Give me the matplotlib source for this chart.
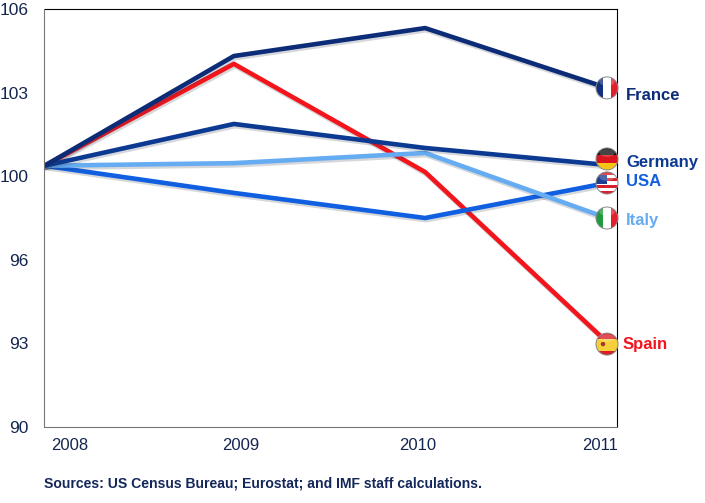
import numpy as np
from matplotlib import pyplot as plt
from matplotlib import patheffects as pe
from matplotlib.patches import Circle, Ellipse, Rectangle

plt.rcParams['font.family'] = ['Liberation Sans', 'DejaVu Sans']

years = [2008, 2009, 2010, 2011]
# the points in the original are not quite evenly spaced
year_pos = [2008, 2009.01, 2010.03, 2011]
france = [100.0, 104.2, 105.27, 102.98]
germany = [100.0, 101.6, 100.68, 100.03]
usa = [100.0, 98.96, 98.0, 99.34]
italy = [100.0, 100.1, 100.49, 98.0]
spain = [100.0, 103.9, 99.76, 93.25]

ytick_labels = ['90', '93', '96', '100', '103', '106']

NAVY = '#0c2c78'
DARKBLUE = '#0c3a92'
BLUE = '#0f5fe0'
LIGHT = '#66acf2'
RED = '#f4141c'
TEXT = '#14264f'

W, H = 705, 503
fig = plt.figure(figsize=(W / 100, H / 100), dpi=100, facecolor='white')
ax = fig.add_axes([44.5 / W, (H - 427) / H, 572.5 / W, 418 / H])

# draw order matters, navy sits on top of the red at the start
series = [(spain, RED), (usa, BLUE), (italy, LIGHT), (germany, DARKBLUE), (france, NAVY)]
for vals, col in series:
    ax.plot(year_pos, vals, color=col, lw=3.3, solid_capstyle='round', solid_joinstyle='round',
            path_effects=[pe.SimpleLineShadow(offset=(0.8, -1.6), shadow_color='#30384a', alpha=0.2),
                          pe.Normal()])

ytick_pos = np.linspace(90, 106, 6)
ax.set_xlim(2008, 2008 + 572.5 / 187.5)
ax.set_ylim(90, 106)
ax.set_yticks(ytick_pos)
ax.set_yticklabels([])
ax.set_xticks([])
ax.tick_params(axis='y', length=0)
ax.spines['left'].set_color('#777777')
ax.spines['bottom'].set_color('#777777')
ax.spines['top'].set_color('black')
ax.spines['right'].set_color('black')
for s in ax.spines.values():
    s.set_linewidth(0.8)

# overlay in pixel coordinates, y going down like the picture
over = fig.add_axes([0, 0, 1, 1], facecolor='none')
over.set_xlim(0, W)
over.set_ylim(H, 0)
over.axis('off')


def to_px(x, y):
    px, py = ax.transData.transform((x, y))
    return px, H - py


def flag(x, y, kind, dy=0):
    cx, cy = to_px(x, y)
    cy += dy
    r = 11
    clip = Circle((cx, cy), r, transform=over.transData)
    parts = []
    if kind in ('france', 'italy'):
        cols = ['#12307e', 'white', '#e2202c'] if kind == 'france' else ['#1f9a3c', 'white', '#e2202c']
        for i, c in enumerate(cols):
            parts.append(Rectangle((cx - r + i * 2 * r / 3, cy - r), 2 * r / 3 + 0.3, 2 * r, fc=c, ec='none'))
    elif kind == 'germany':
        for i, c in enumerate(['#111111', '#d8141c', '#f5c518']):
            parts.append(Rectangle((cx - r, cy - r + i * 2 * r / 3), 2 * r, 2 * r / 3 + 0.3, fc=c, ec='none'))
    elif kind == 'usa':
        for i in range(7):
            c = '#d8202c' if i % 2 == 0 else 'white'
            parts.append(Rectangle((cx - r, cy - r + i * 2 * r / 7), 2 * r, 2 * r / 7 + 0.3, fc=c, ec='none'))
        parts.append(Rectangle((cx - r, cy - r + 3), r, r - 2, fc='#1c3f94', ec='none'))
    elif kind == 'spain':
        parts.append(Rectangle((cx - r, cy - r), 2 * r, 2 * r, fc='#d81e28', ec='none'))
        parts.append(Rectangle((cx - r, cy - r / 2), 2 * r, r + 1, fc='#f6cf3a', ec='none'))
        parts.append(Circle((cx - 4, cy), 2.2, fc='#a8352c', ec='none'))
    for p in parts:
        over.add_patch(p)
        p.set_clip_path(clip)
    # gloss on top half
    gloss = Ellipse((cx, cy - r * 0.55), r * 1.4, r * 0.7, fc='white', ec='none', alpha=0.22)
    over.add_patch(gloss)
    over.add_patch(Circle((cx, cy), r, fc='none', ec='#8a8a8a', lw=0.7))


flag(2011, france[3], 'france')
flag(2011, germany[3], 'germany', dy=-6)
flag(2011, usa[3], 'usa')
flag(2011, italy[3], 'italy')
flag(2011, spain[3], 'spain', dy=2)

# y labels sit a touch below their nominal positions
for val, lab in zip(ytick_pos, ytick_labels):
    over.text(29, to_px(2008, val)[1] + 1.5, lab, color=TEXT, fontsize=12.5, ha='right', va='center')

# series names
over.text(626, 95, 'France', color=NAVY, fontsize=12, fontweight='bold', va='center')
over.text(626, 163, 'Germany', color=DARKBLUE, fontsize=12, fontweight='bold', va='center')
over.text(626, 181, 'USA', color=BLUE, fontsize=12, fontweight='bold', va='center')
over.text(626, 220, 'Italy', color=LIGHT, fontsize=12, fontweight='bold', va='center')
over.text(623, 345, 'Spain', color=RED, fontsize=12, fontweight='bold', va='center')

# year labels are not centred on the points in the original
for yr, xp in zip(years, [70, 241, 418, 600]):
    over.text(xp, 445.5, str(yr), color=TEXT, fontsize=12, ha='center', va='center')

over.text(44, 483.5, 'Sources: US Census Bureau; Eurostat; and IMF staff calculations.',
          color='#14275a', fontsize=10.1, fontweight='bold', va='center')

fig.savefig('out.png', dpi=100)
